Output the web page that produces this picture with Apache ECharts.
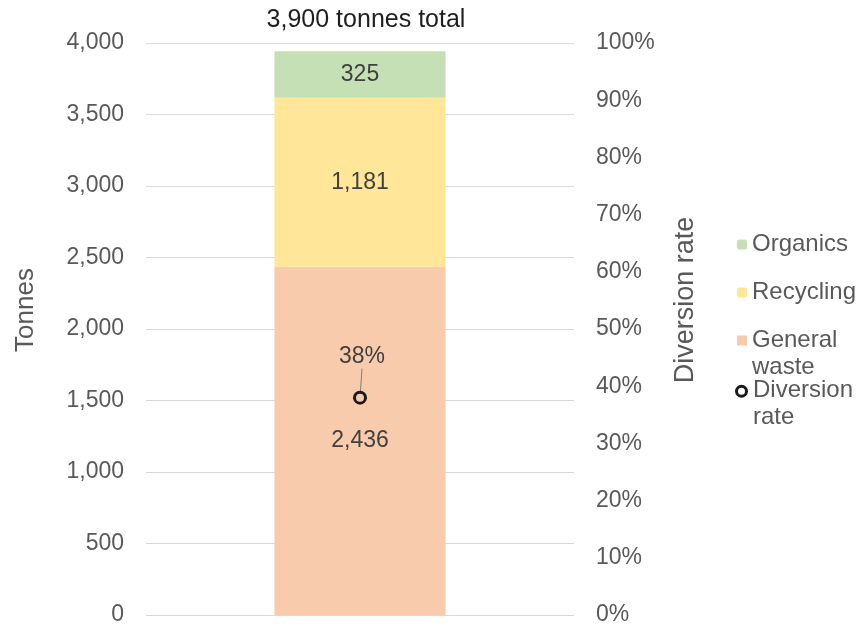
<!DOCTYPE html>
<html>
<head>
<meta charset="utf-8">
<script src="https://cdn.jsdelivr.net/npm/echarts@6/dist/echarts.min.js"></script>
<style>
  html, body { margin: 0; padding: 0; background: #fff; }
  #chart { width: 858px; height: 629px; }
</style>
</head>
<body>
<div id="chart"></div>
<script>
// Waste streams for the year, in tonnes
const categories = [''];
const generalWaste = [2436];
const recycling = [1181];
const organics = [325];
// Share of waste diverted from landfill, in percent
const diversionRate = [38];

const tonnesTicks = { min: 0, max: 4000, interval: 500 };
const rateTicks = { min: 0, max: 100, interval: 10 };

const total = generalWaste[0] + recycling[0] + organics[0];
const titleText = (Math.round(total / 100) * 100).toLocaleString('en-US') + ' tonnes total';

const FONT = '"Liberation Sans", Arial, sans-serif';
const AXIS_COLOR = '#595959';
const LABEL_COLOR = '#404040';

// Legend icons for two-line entries: the marker sits beside the first line,
// the tiny speck at the bottom only stretches the icon box to two lines.
const SPECK = ' M5,36.99 h0.01 v0.01 h-0.01 z';
const squareTop = 'path://M0,0 h10 v10 h-10 z' + SPECK;
const ringTop = 'path://M-1.5,5 a6.5,6.5 0 1,1 13,0 a6.5,6.5 0 1,1 -13,0 z M1.5,5 a3.5,3.5 0 1,0 7,0 a3.5,3.5 0 1,0 -7,0 z' + SPECK;

const chart = echarts.init(document.getElementById('chart'));

const barLabel = {
  show: true,
  position: 'inside',
  fontFamily: FONT,
  fontSize: 23,
  color: LABEL_COLOR,
  formatter: p => Number(p.value).toLocaleString('en-US')
};

const legendText = { fontFamily: FONT, fontSize: 24, color: AXIS_COLOR, lineHeight: 27 };
const legendBase = { left: 737, orient: 'vertical', padding: 0, itemGap: 0, textStyle: legendText };

chart.setOption({
  animation: false,
  title: {
    text: titleText,
    left: 361,
    textAlign: 'center',
    top: 3,
    textStyle: { fontFamily: FONT, fontSize: 25, fontWeight: 'normal', color: '#1f1f1f' }
  },
  grid: { left: 146, right: 284, top: 43, bottom: 14 },
  legend: [
    Object.assign({}, legendBase, { data: ['Organics'], top: 231, itemWidth: 10, itemHeight: 10 }),
    Object.assign({}, legendBase, { data: ['Recycling'], top: 279, itemWidth: 10, itemHeight: 10 }),
    Object.assign({}, legendBase, {
      data: [{ name: 'General waste', icon: squareTop }],
      top: 327, itemWidth: 10, itemHeight: 37,
      formatter: () => 'General\nwaste'
    }),
    Object.assign({}, legendBase, {
      data: [{ name: 'Diversion rate', icon: ringTop, itemStyle: { color: '#1a1a1a', borderWidth: 0, opacity: 1 } }],
      left: 735, top: 377, itemWidth: 13, itemHeight: 38.5,
      formatter: () => 'Diversion\nrate'
    })
  ],
  xAxis: {
    type: 'category',
    data: categories,
    axisLine: { show: false },
    axisTick: { show: false },
    axisLabel: { show: false }
  },
  yAxis: [
    {
      type: 'value',
      min: tonnesTicks.min, max: tonnesTicks.max, interval: tonnesTicks.interval,
      name: 'Tonnes',
      nameLocation: 'middle',
      nameGap: 107,
      nameTextStyle: { fontFamily: FONT, fontSize: 26, color: AXIS_COLOR, padding: [0, 0, 0, 38] },
      axisLine: { show: false },
      axisTick: { show: false },
      axisLabel: { fontFamily: FONT, fontSize: 23, color: AXIS_COLOR, margin: 22,
        formatter: v => v.toLocaleString('en-US') },
      splitLine: { lineStyle: { color: '#d9d9d9', width: 1 } }
    },
    {
      type: 'value',
      min: rateTicks.min, max: rateTicks.max, interval: rateTicks.interval,
      name: 'Diversion rate',
      nameLocation: 'middle',
      nameGap: 98,
      nameRotate: 90,
      nameTextStyle: { fontFamily: FONT, fontSize: 27, color: AXIS_COLOR, padding: [0, 0, 0, 58] },
      axisLine: { show: false },
      axisTick: { show: false },
      axisLabel: { fontFamily: FONT, fontSize: 23, color: AXIS_COLOR, margin: 22,
        formatter: v => v + '%' },
      splitLine: { show: false }
    }
  ],
  series: [
    {
      name: 'General waste', type: 'bar', stack: 'waste', data: generalWaste,
      barWidth: '40%', itemStyle: { color: '#F8CBAD' }, label: barLabel
    },
    {
      name: 'Recycling', type: 'bar', stack: 'waste', data: recycling,
      itemStyle: { color: '#FFE699' }, label: barLabel
    },
    {
      name: 'Organics', type: 'bar', stack: 'waste', data: organics,
      itemStyle: { color: '#C5E0B4' }, label: barLabel
    },
    {
      name: 'Diversion rate', type: 'scatter', yAxisIndex: 1, data: diversionRate,
      symbol: 'circle', symbolSize: 11,
      itemStyle: { color: 'rgba(0,0,0,0)', borderColor: '#1a1a1a', borderWidth: 3, opacity: 1 },
      label: {
        show: true, position: 'top', distance: 4,
        fontFamily: FONT, fontSize: 23, color: LABEL_COLOR,
        formatter: p => p.value + '%'
      },
      labelLayout: { dy: -18, dx: 2 },
      labelLine: { show: true, length2: 0, lineStyle: { color: '#808080', width: 1 } },
      z: 5
    }
  ]
});
</script>
</body>
</html>
